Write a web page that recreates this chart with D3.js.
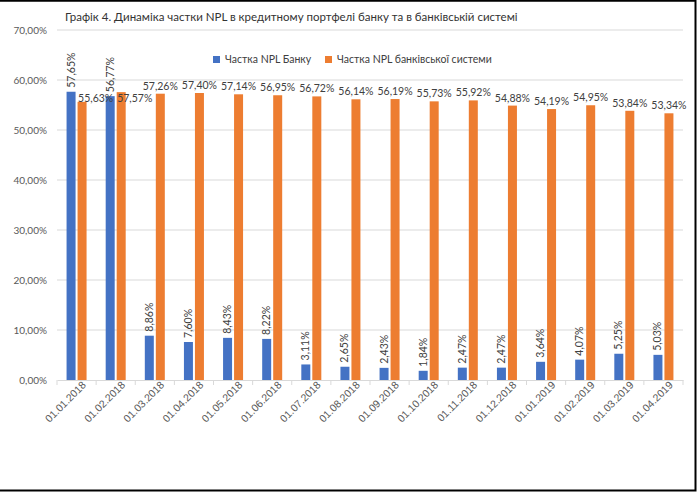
<!DOCTYPE html>
<html><head><meta charset="utf-8">
<script src="https://cdn.jsdelivr.net/npm/d3@7/dist/d3.min.js"></script>
<style>
html,body{margin:0;padding:0;background:#fff;}
svg{display:block;font-family:Lato,"Open Sans",sans-serif;}
</style></head>
<body>
<svg id="c" width="698" height="492"></svg>
<script>
const categories = ["01.01.2018","01.02.2018","01.03.2018","01.04.2018","01.05.2018","01.06.2018","01.07.2018","01.08.2018","01.09.2018","01.10.2018","01.11.2018","01.12.2018","01.01.2019","01.02.2019","01.03.2019","01.04.2019"];
const bankShare = [57.65,56.77,8.86,7.60,8.43,8.22,3.11,2.65,2.43,1.84,2.47,2.47,3.64,4.07,5.25,5.03];
const systemShare = [55.63,57.57,57.26,57.40,57.14,56.95,56.72,56.14,56.19,55.73,55.92,54.88,54.19,54.95,53.84,53.34];
const seriesNames = ["Частка NPL Банку","Частка NPL банківської системи"];
const yTicks = [0,10,20,30,40,50,60,70];
const titleText = "Графік 4. Динаміка частки NPL в кредитному портфелі банку та в банківській системі";

const colors = ["#4472C4","#ED7D31"];
const svg = d3.select("#c");
const W = 698, H = 492;
const m = {left:57, right:15, top:30, bottom:112};

const x = d3.scaleBand().domain(categories).range([m.left, W - m.right]).paddingInner(0).paddingOuter(0);
const y = d3.scaleLinear().domain([0,70]).range([H - m.bottom, m.top]);
const fmt = v => d3.format(".2f")(v).replace(".", ",") + "%";

// border
svg.append("rect").attr("x",-2).attr("y",0.75).attr("width",W-2.5+2).attr("height",H-2.25)
  .attr("fill","none").attr("stroke","#000").attr("stroke-width",2);

// gridlines
svg.append("g").selectAll("line").data(yTicks.filter(d=>d>0)).join("line")
  .attr("x1",m.left).attr("x2",W-m.right).attr("y1",d=>y(d)).attr("y2",d=>y(d))
  .attr("stroke","#d9d9d9").attr("stroke-width",1);

// y axis labels
const yAxis = d3.axisLeft(y).tickValues(yTicks).tickSize(0).tickPadding(10).tickFormat(d=>d3.format(".2f")(d).replace(".",",")+"%");
const gy = svg.append("g").attr("transform",`translate(${m.left},0)`).call(yAxis);
gy.select(".domain").remove();
gy.selectAll("text").attr("fill","#595959").style("font-size","10px").style("font-family","Lato,sans-serif");

// x axis
const xAxis = d3.axisBottom(x).tickSize(0).tickPadding(6);
const gx = svg.append("g").attr("transform",`translate(0,${y(0)})`).call(xAxis);
gx.select(".domain").attr("stroke","#d9d9d9");
gx.selectAll("text").attr("fill","#595959").style("font-size","10.5px")
  .attr("text-anchor","end").attr("dx","0.3em").attr("dy","0.5em")
  .attr("transform","rotate(-45)");
// category boundary ticks
svg.append("g").selectAll("line").data(d3.range(categories.length+1)).join("line")
  .attr("x1",i=>m.left + i*x.bandwidth()).attr("x2",i=>m.left + i*x.bandwidth())
  .attr("y1",y(0)).attr("y2",y(0)+5).attr("stroke","#d9d9d9");

const bw = 9;
const cx = c => x(c) + x.bandwidth()/2;

// bars
svg.append("g").selectAll("rect").data(categories).join("rect")
  .attr("x",c=>cx(c)-bw-1).attr("width",bw)
  .attr("y",(c,i)=>y(bankShare[i])).attr("height",(c,i)=>y(0)-y(bankShare[i]))
  .attr("fill",colors[0]);
svg.append("g").selectAll("rect").data(categories).join("rect")
  .attr("x",c=>cx(c)+1).attr("width",bw)
  .attr("y",(c,i)=>y(systemShare[i])).attr("height",(c,i)=>y(0)-y(systemShare[i]))
  .attr("fill",colors[1]);

// labels blue (rotated)
svg.append("g").selectAll("text").data(categories).join("text")
  .attr("transform",(c,i)=>`translate(${cx(c)-bw/2-1+3.5},${y(bankShare[i])-4}) rotate(-90)`)
  .attr("text-anchor","start").attr("fill","#404040").style("font-size","10.5px")
  .text((c,i)=>fmt(bankShare[i]));

// labels orange
svg.append("g").selectAll("text").data(categories).join("text")
  .attr("x",(c,i)=> bankShare[i] > 50 ? cx(c)+1+bw/2 - 4 : cx(c)+1+bw/2)
  .attr("y",(c,i)=> bankShare[i] > 50 ? y(systemShare[i])+ (i===0? 0 : 10) : y(systemShare[i])-4)
  .attr("text-anchor",(c,i)=> bankShare[i] > 50 ? "start" : "middle")
  .attr("fill","#404040").style("font-size","10.5px")
  .text((c,i)=>fmt(systemShare[i]));

// title
svg.append("text").attr("x",65).attr("y",21).attr("fill","#333")
  .style("font-size","11.5px").text(titleText);

// legend
const lg = svg.append("g");
const items = [{x:213,c:colors[0],t:seriesNames[0]},{x:325,c:colors[1],t:seriesNames[1]}];
items.forEach(it=>{
  lg.append("rect").attr("x",it.x).attr("y",56).attr("width",7).attr("height",7).attr("fill",it.c);
  lg.append("text").attr("x",it.x+12).attr("y",63).attr("fill","#404040").style("font-size","10.5px").text(it.t);
});
</script>
</body></html>
